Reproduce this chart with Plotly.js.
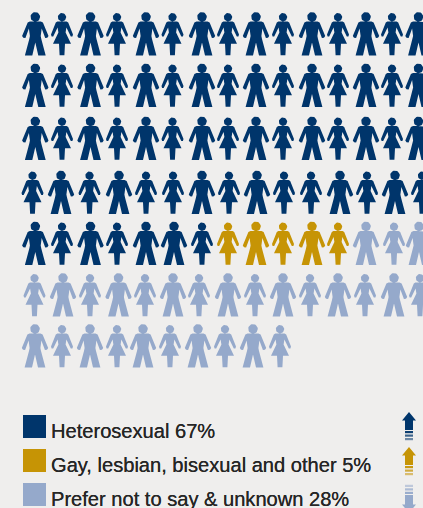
<!DOCTYPE html>
<html>
<head>
<meta charset="utf-8">
<script src="https://cdn.plot.ly/plotly-3.0.1.min.js"></script>
<style>
  html, body { margin: 0; padding: 0; background: #EFEEED; overflow: hidden; }
  #chart { width: 423px; height: 508px; }
</style>
</head>
<body>
<div id="chart"></div>
<script>
// Share of respondents per group, one figure per percentage point.
const categories = ["Heterosexual", "Gay, lesbian, bisexual and other", "Prefer not to say & unknown"];
const shares = [67, 5, 28];
const trends = ["up", "up", "down"];

// Order of figures in each row: M = man, F = woman.
const rowFigures = [
  "MFMFMFMFMFMFMFM",
  "MFMFMFMFMFMFMFM",
  "MFMFMFMFMFMFMFM",
  "FMFMFFMFMFFMFMF",
  "MFMFMMFFMFMFMFM",
  "FMFMFMFMFMFMFMF",
  "MFMFMFMFMF"
];

const colours = ["#00356B", "#C69405", "#95A9CB"];
const paper = "#EFEEED";

// Layout of the figure grid, in page pixels.
const rowTops = [12, 63.5, 116.5, 170.5, 221.5, 273, 324];
const rowColumns = [
  [35.3, 62, 90.5, 117, 146, 172.5, 202, 228, 256, 283, 312, 338, 366, 392, 418.5],
  [35.3, 62, 90.5, 117, 146, 172.5, 202, 228, 256, 283, 312, 338, 366, 392, 418.5],
  [35.3, 62, 90.5, 117, 146, 172.5, 202, 228, 256, 283, 312, 338, 366, 392, 418.5],
  [32.5, 61, 89.5, 119, 146, 173, 202, 229, 257, 284, 311, 340, 367, 395, 422],
  [35.3, 62, 90.5, 117, 146, 174, 202, 228, 256, 283, 312, 338, 366, 394, 419],
  [34.5, 63, 90, 118.5, 145, 173, 199, 228, 255, 283, 310, 338, 365, 394, 420],
  [35, 62, 90, 117, 143, 170, 198, 225, 253, 280]
];

// Right half of each silhouette body, mirrored about x = 0; y runs down from the head top.
const manHalf = [[0,9.6],[5.5,9.6],[7.6,10.4],[13.2,24],[12,25.8],[9.9,26],[6.4,16.4],[5.4,24],[6,27],[10.4,43.4],[3,43.4],[0,30.5]];
const womanHalf = [[0,9.6],[4.6,9.6],[6.2,10.6],[11,22.4],[10.4,24.4],[8.8,24.6],[4.4,15.6],[3.6,20.5],[9,31.8],[3,31.8],[2.4,43.2],[0,43.2]];
const heads = { M: { cy: 4.9, r: 4.8 }, F: { cy: 5.2, r: 4.2 } };

function mirrored(half) {
  const back = half.slice().reverse().map(p => [-p[0], p[1]]);
  return half.concat(back);
}
const bodies = { M: mirrored(manHalf), F: mirrored(womanHalf) };

function appendPolygon(path, points) {
  points.forEach(p => { path.x.push(p[0]); path.y.push(p[1]); });
  path.x.push(points[0][0], null);
  path.y.push(points[0][1], null);
}

function appendFigure(path, kind, cx, top) {
  appendPolygon(path, bodies[kind].map(p => [cx + p[0], top + p[1]]));
  const head = heads[kind];
  const ring = [];
  for (let i = 0; i < 28; i++) {
    const a = (i / 28) * 2 * Math.PI;
    ring.push([cx + head.r * Math.cos(a), top + head.cy + head.r * Math.sin(a)]);
  }
  appendPolygon(path, ring);
}

// Walk the grid in reading order and hand out figures to the groups by their share.
const owners = [];
shares.forEach((n, i) => { for (let k = 0; k < n; k++) owners.push(i); });
const figurePaths = categories.map(() => ({ x: [], y: [] }));
let cell = 0;
rowFigures.forEach((row, r) => {
  row.split("").forEach((kind, c) => {
    appendFigure(figurePaths[owners[cell]], kind, rowColumns[r][c], rowTops[r]);
    cell++;
  });
});

function filled(path, colour, opacity) {
  return {
    type: "scatter", mode: "lines", x: path.x, y: path.y,
    fill: "toself", fillcolor: colour, opacity: opacity === undefined ? 1 : opacity,
    line: { width: 0, color: colour }, hoverinfo: "skip", showlegend: false
  };
}

const traces = figurePaths.map((p, i) => filled(p, colours[i]));

// Legend swatches and labels.
const legendX = 34.5;
const legendY = [426.5, 460.5, 494.5];
traces.push({
  type: "scatter", mode: "markers",
  x: categories.map(() => legendX), y: legendY,
  marker: { symbol: "square", size: 23, color: colours, line: { width: 0 } },
  hoverinfo: "skip", showlegend: false
});
const annotations = categories.map((name, i) => ({
  xref: "x", yref: "y", x: 48.5, y: legendY[i] + 4.8,
  text: name + " " + shares[i] + "%",
  showarrow: false, xanchor: "left", yanchor: "middle",
  font: { family: "Liberation Sans, Arial, sans-serif", size: 20.1, color: "#262626", shadow: "0 0 0.5px #262626" }
}));

// Trend arrows to the right of each legend row.
const arrowCx = 409;
const arrowTops = [412, 447, 484];
const arrowHead = 8.5, arrowShaft = 18, stripeFade = [0.95, 0.75, 0.55];
trends.forEach((dir, i) => {
  const sign = dir === "up" ? 1 : -1;
  const y0 = dir === "up" ? arrowTops[i] : arrowTops[i] + 29;
  const at = d => y0 + sign * d;
  const arrow = { x: [], y: [] };
  appendPolygon(arrow, [
    [arrowCx, at(0)], [arrowCx + 7, at(arrowHead)], [arrowCx + 4, at(arrowHead)],
    [arrowCx + 4, at(arrowShaft)], [arrowCx - 4, at(arrowShaft)], [arrowCx - 4, at(arrowHead)],
    [arrowCx - 7, at(arrowHead)]
  ]);
  traces.push(filled(arrow, colours[i]));
  stripeFade.forEach((o, s) => {
    const d0 = arrowShaft + 1 + s * 3.5, d1 = d0 + 2.2;
    const bar = { x: [], y: [] };
    appendPolygon(bar, [[arrowCx - 4, at(d0)], [arrowCx + 4, at(d0)], [arrowCx + 4, at(d1)], [arrowCx - 4, at(d1)]]);
    traces.push(filled(bar, colours[i], o));
  });
});

const layout = {
  width: 423, height: 508,
  margin: { l: 0, r: 0, t: 0, b: 0, pad: 0 },
  paper_bgcolor: paper, plot_bgcolor: paper,
  showlegend: false,
  xaxis: { range: [0, 423], visible: false, fixedrange: true },
  yaxis: { range: [508, 0], visible: false, fixedrange: true },
  annotations: annotations
};

Plotly.newPlot("chart", traces, layout, { displayModeBar: false, staticPlot: true });
</script>
</body>
</html>
